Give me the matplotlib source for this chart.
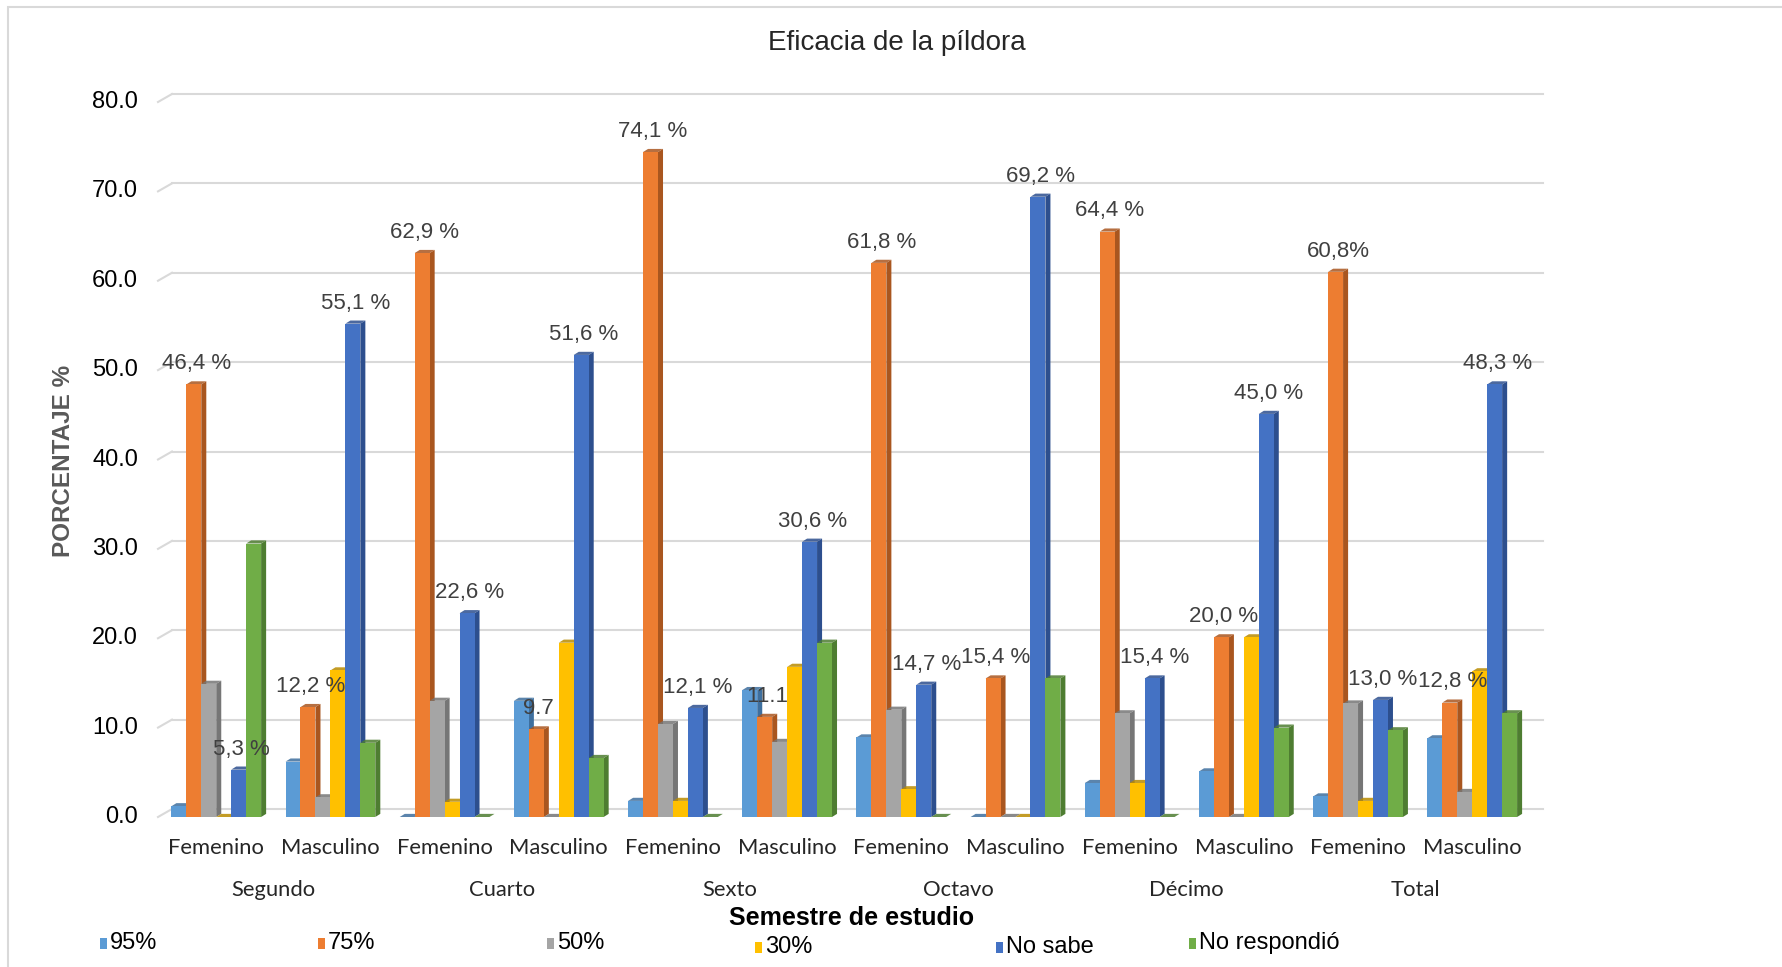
import matplotlib
matplotlib.use("Agg")
import matplotlib.pyplot as plt
import matplotlib.transforms as mtransforms
from matplotlib.patches import Polygon, Rectangle

plt.rcParams["font.family"] = ["Liberation Sans", "DejaVu Sans"]

# Data
semestres = ["Segundo", "Cuarto", "Sexto", "Octavo", "Décimo", "Total"]
sexos = ["Femenino", "Masculino"]
series = ["95%", "75%", "50%", "30%", "No sabe", "No respondió"]

# one value per group: Segundo F, Segundo M, Cuarto F, Cuarto M, ... Total M
v95 = [1.2, 6.2, 0.0, 13.0, 1.8, 14.2, 8.9, 0.0, 3.8, 5.1, 2.3, 8.8]
v75 = [48.4, 12.3, 63.1, 9.8, 74.4, 11.2, 62.0, 15.5, 65.5, 20.1, 61.0, 12.8]
v50 = [14.9, 2.2, 13.0, 0.0, 10.4, 8.4, 12.0, 0.0, 11.6, 0.0, 12.7, 2.8]
v30 = [0.0, 16.4, 1.7, 19.5, 1.8, 16.8, 3.1, 0.0, 3.8, 20.1, 1.8, 16.3]
vnosabe = [5.3, 55.2, 22.8, 51.7, 12.2, 30.8, 14.8, 69.4, 15.5, 45.1, 13.1, 48.4]
vnoresp = [30.6, 8.3, 0.0, 6.6, 0.0, 19.5, 0.0, 15.5, 0.0, 10.0, 9.7, 11.6]
valores = [v95, v75, v50, v30, vnosabe, vnoresp]

# data labels: (group, series, text)
etiquetas = [
    (0, 1, "46,4 %"), (0, 4, "5,3 %"),
    (1, 1, "12,2 %"), (1, 4, "55,1 %"),
    (2, 1, "62,9 %"), (2, 4, "22,6 %"),
    (3, 1, "9.7"), (3, 4, "51,6 %"),
    (4, 1, "74,1 %"), (4, 4, "12,1 %"),
    (5, 1, "11.1"), (5, 4, "30,6 %"),
    (6, 1, "61,8 %"), (6, 4, "14,7 %"),
    (7, 1, "15,4 %"), (7, 4, "69,2 %"),
    (8, 1, "64,4 %"), (8, 4, "15,4 %"),
    (9, 1, "20,0 %"), (9, 4, "45,0 %"),
    (10, 1, "60,8%"), (10, 4, "13,0 %"),
    (11, 1, "12,8 %"), (11, 4, "48,3 %"),
]
yticks = [0, 10, 20, 30, 40, 50, 60, 70, 80]

colores = ["#5B9BD5", "#ED7D31", "#A5A5A5", "#FFC000", "#4472C4", "#70AD47"]
lados = ["#3E6F9E", "#A9561F", "#767676", "#B98B00", "#2D4F8E", "#4E7D31"]

W, H = 1782, 967
fig = plt.figure(figsize=(W / 100, H / 100), dpi=100)
ax = fig.add_axes([158 / W, 1 - 817 / H, (1543 - 158) / W, (817 - 102) / H])
ax.set_xlim(-0.51, 11.62)
ax.set_ylim(0, 80)
ax.axis("off")

# chart border
fig.patches.append(Rectangle((8 / W, -0.1), 1.2, 1 - 7 / H + 0.1, transform=fig.transFigure,
                             fill=False, ec="#D9D9D9", lw=1.5))

# gridlines on the back wall, with a slanted floor segment at the left
back = mtransforms.offset_copy(ax.transData, fig=fig, x=0, y=8, units="dots")
slant_dx = 14 / ((1543 - 158) / 12.13)
for yv in yticks:
    ax.plot([-0.51 + slant_dx, 11.62], [yv, yv], color="#D9D9D9", lw=1.5,
            transform=back, zorder=0, clip_on=False)
    x0, y0 = ax.transData.transform((-0.51, yv))
    ax.plot([x0, x0 + 14], [y0, y0 + 8], color="#D9D9D9", lw=1.5, transform=None,
            zorder=0, clip_on=False)
    ax.text(-0.51, yv, f"{yv:.1f}",
            transform=mtransforms.offset_copy(ax.transData, fig=fig, x=-20, y=0, units="dots"),
            ha="right", va="center", fontsize=17, color="#000000")

# 3D-style bars
w = 0.131
dx = 0.044
dy = 0.35
n = len(series)
for g in range(12):
    for s in range(n):
        v = valores[s][g]
        xc = g + (s - (n - 1) / 2) * w
        z = 2 + s
        ax.bar(xc, v, width=w, color=colores[s], zorder=z + 0.2, linewidth=0)
        xr = xc + w / 2
        side = Polygon([(xr, 0), (xr + dx, dy), (xr + dx, v + dy), (xr, v)],
                       closed=True, fc=lados[s], ec="none", zorder=z)
        top = Polygon([(xc - w / 2, v), (xr, v), (xr + dx, v + dy), (xc - w / 2 + dx, v + dy)],
                      closed=True, fc=lados[s], ec="none", zorder=z + 0.1, alpha=0.85)
        ax.add_patch(side)
        ax.add_patch(top)

# value labels
for g, s, txt in etiquetas:
    v = valores[s][g]
    xc = g + (s - (n - 1) / 2) * w + dx / 2
    ax.annotate(txt, (xc, v + dy), xytext=(0, 7), textcoords="offset pixels",
                ha="center", va="bottom", fontsize=16, color="#404040", zorder=20)

# category labels
trans = ax.get_xaxis_transform()
for g in range(12):
    ax.text(g, -0.0434, sexos[g % 2], transform=trans, ha="center", va="center",
            fontsize=15.8, family="Lato", color="#262626")
for k, sem in enumerate(semestres):
    ax.text(2 * k + 0.5, -0.102, sem, transform=trans, ha="center", va="center",
            fontsize=15.8, family="Lato", color="#262626")

fig.text(897 / W, 1 - 43 / H, "Eficacia de la píldora", ha="center", va="center",
         fontsize=20, color="#262626")
fig.text(63 / W, 1 - 461 / H, "PORCENTAJE %", rotation=90, ha="center", va="center",
         fontsize=17.5, fontweight="bold", color="#595959")
fig.text(852 / W, 1 - 918 / H, "Semestre de estudio", ha="center", va="center",
         fontsize=18, fontweight="bold")

# legend
leg_x = [100, 318, 547, 755, 996, 1189]
leg_y = [943, 943, 943, 947, 947, 943]
for s in range(n):
    fig.patches.append(Rectangle((leg_x[s] / W, 1 - (leg_y[s] + 6) / H), 7 / W, 11 / H,
                                 transform=fig.transFigure, fc=colores[s], ec="none"))
    fig.text((leg_x[s] + 10) / W, 1 - leg_y[s] / H, series[s], ha="left", va="center",
             fontsize=17)

fig.savefig("out.png", dpi=100)
